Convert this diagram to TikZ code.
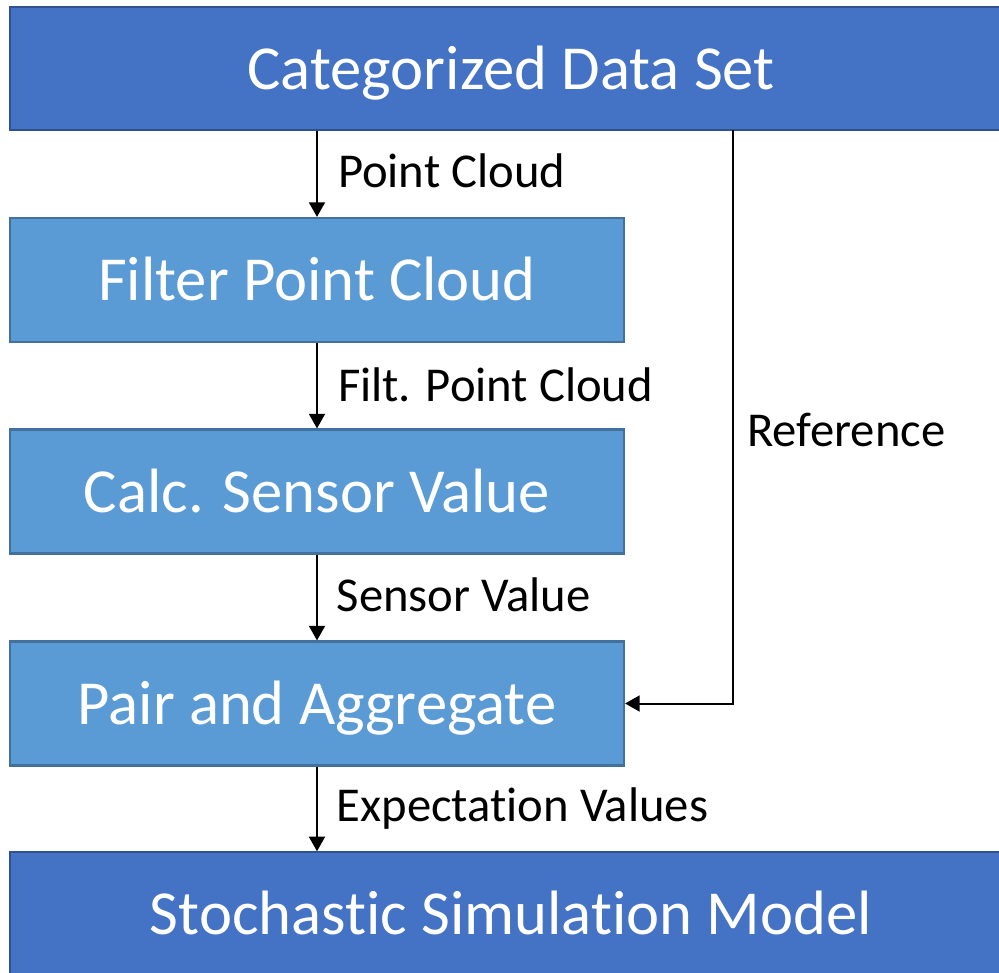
\documentclass[tikz,border=0pt]{standalone}
\usepackage{fontspec}
\setmainfont[Ligatures=NoCommon]{Carlito}
\usepackage{tikz}
\usetikzlibrary{arrows.meta, positioning}
\definecolor{topblue}{RGB}{68,114,196}
\definecolor{topedge}{RGB}{47,82,143}
\definecolor{stepblue}{RGB}{91,155,213}
\definecolor{stepedge}{RGB}{65,113,156}
\tikzset{
  bigbox/.style={rectangle, draw=topedge, fill=topblue, line width=1.6pt,
    minimum width=751.5pt, minimum height=92.5pt, inner sep=0pt,
    text height=31pt, text depth=0pt,
    text=white, font=\fontsize{47}{56}\selectfont},
  stepbox/.style={rectangle, draw=stepedge, fill=stepblue, line width=1.6pt,
    minimum width=460.5pt, minimum height=93pt, inner sep=0pt,
    text height=31pt, text depth=0pt,
    text=white, font=\fontsize{47}{56}\selectfont},
  arrow/.style={-{Triangle[length=11pt, width=12pt]}, line width=1.5pt, color=black},
  flowlabel/.style={inner sep=0pt, anchor=west, text=black,
    text height=23.5pt, text depth=0pt,
    font=\fontsize{36.5}{44}\selectfont}
}

\begin{document}
\begin{tikzpicture}[x=0.75pt, y=-0.75pt]
  \useasboundingbox (0,0) rectangle (999,972);
  \clip (0,0) rectangle (999,972);
  % ── Boxes ────────────────────────────────────────────────────────────────
  \node[bigbox] (data) at (511,68.5) {Categorized Data Set};
  \node[stepbox] (filter) at (317,280) {Filter Point Cloud};
  \node[stepbox] (calc) at (317,491.5) {Calc. Sensor Value};
  \node[stepbox] (pair) at (317,703.5) {Pair and Aggregate};
  \node[bigbox] (model) at (511,914) {Stochastic Simulation Model};

  % ── Main flow ────────────────────────────────────────────────────────────
  \draw[arrow] (data.south -| filter) -- (filter.north)
    node[midway, right=15pt, yshift=2pt, flowlabel] {Point Cloud};
  \draw[arrow] (filter) -- (calc)
    node[midway, right=15pt, flowlabel] {Filt. Point Cloud};
  \draw[arrow] (calc) -- (pair)
    node[midway, right=14pt, yshift=1.5pt, flowlabel] {Sensor Value};
  \draw[arrow] (pair.south) -- (model.north -| pair)
    node[midway, right=14pt, yshift=2pt, flowlabel] {Expectation Values};

  % ── Reference path ──────────────────────────────────────────────────────
  \coordinate (reftap) at (733,130);
  \draw[arrow] (reftap) |- (pair.east)
    node[pos=0.262, right=10pt, flowlabel] {Reference};
\end{tikzpicture}
\end{document}
